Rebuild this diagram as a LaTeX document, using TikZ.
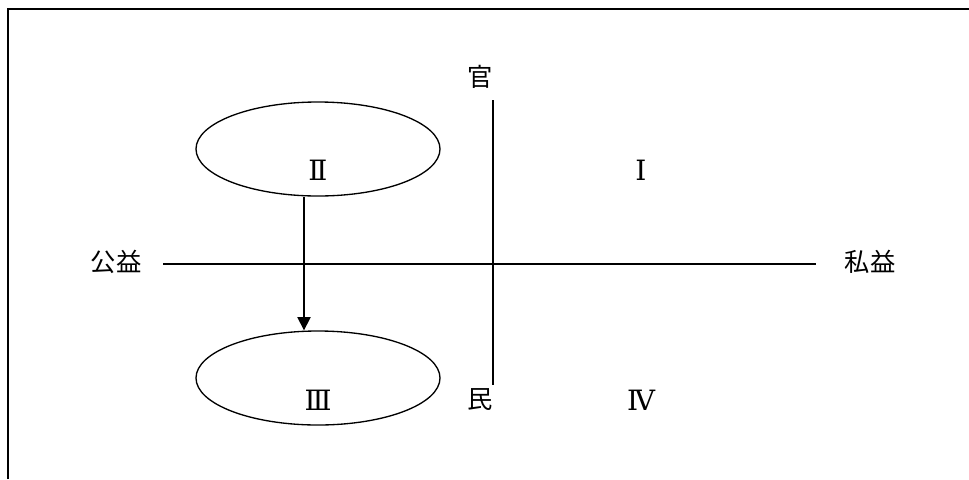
\documentclass[tikz,border=0pt]{standalone}
\usepackage{fontspec}
\newfontfamily\cjk{Noto Sans CJK JP}
\newfontfamily\numfont{DejaVu Serif}
\usetikzlibrary{arrows.meta,shapes.geometric}
\tikzset{
  lbl/.style={inner sep=0pt,font=\cjk\fontsize{19pt}{19pt}\selectfont},
  num/.style={inner sep=0pt,font=\numfont\fontsize{21pt}{21pt}\selectfont},
  oval/.style={draw,ellipse,line width=1pt,minimum width=183pt,minimum height=70.5pt,inner sep=0pt},
  axis/.style={line width=1pt},
  flow/.style={line width=1pt,-{Triangle[length=10pt,width=10pt]}}
}
\begin{document}
\begin{tikzpicture}[x=0.75pt,y=0.75pt,yscale=-1,xscale=1]
\useasboundingbox (0,0) rectangle (969,479);
%Frame
\draw [line width=1.2pt] (8,479) -- (8,9) -- (969,9);

%Shape: Ellipse
\node [oval] (oval2) at (318,149) {};
%Shape: Ellipse
\node [oval] (oval3) at (318,378) {};

%Axes
\coordinate (hl) at (163,264);
\coordinate (hr) at (816,264);
\coordinate (vt) at (493,100);
\coordinate (vb) at (493,385);
\draw [axis] (hl) -- (hr);
\draw [axis] (vt) -- (vb);

%Arrow
\draw [flow] ([xshift=-10.5pt]oval2.south) -- ([xshift=-10.5pt]oval3.north);

% Text Node
\node [lbl] (guan) at (480,77) {官};
% Text Node
\node [lbl] (min) at (480,400) {民};
% Text Node
\node [lbl] (gongyi) at (116,262) {公益};
% Text Node
\node [lbl] (siyi) at (870,262) {私益};
% Text Node
\node [num] (num1) at (641,170) {Ⅰ};
% Text Node
\node [num] (num2) at (318,170) {Ⅱ};
% Text Node
\node [num] (num3) at (318,400) {Ⅲ};
% Text Node
\node [num] (num4) at (641,400) {Ⅳ};
\end{tikzpicture}
\end{document}
